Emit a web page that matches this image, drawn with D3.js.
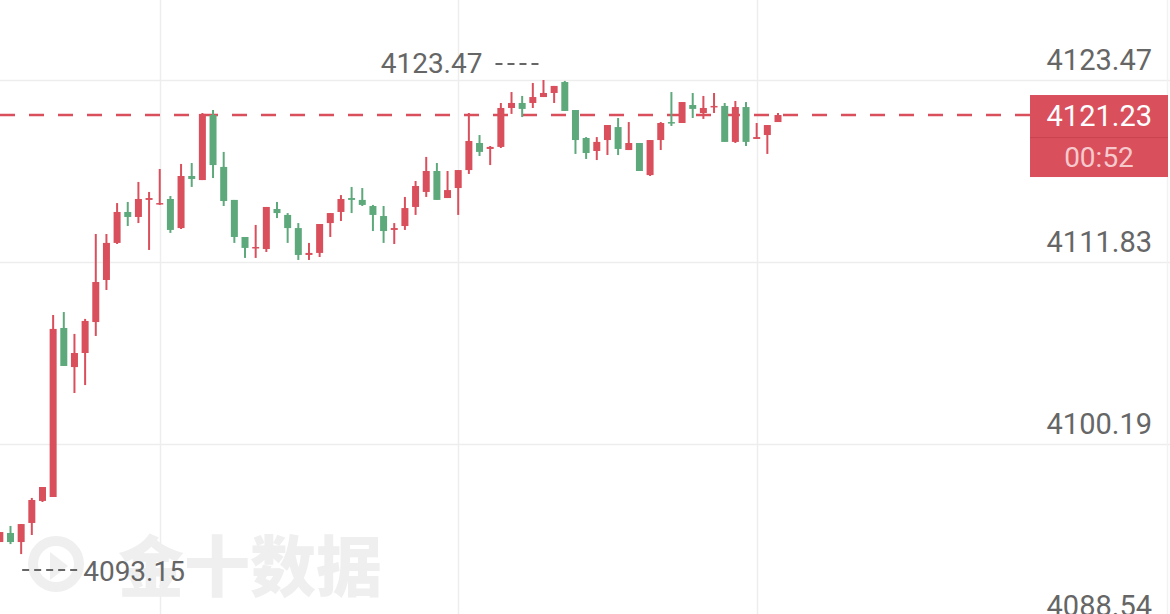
<!DOCTYPE html>
<html>
<head>
<meta charset="utf-8">
<script src="https://cdn.jsdelivr.net/npm/d3@7"></script>
<style>
html, body { margin: 0; padding: 0; background: #fff; overflow: hidden; }
</style>
</head>
<body>
<svg id="chart" width="1170" height="614"></svg>
<script>
"use strict";

// candles, oldest first (index -1 is the half-visible one on the left edge)
const candleIndex = d3.range(-1, 73);
const opens  = [4093.92, 4094.50, 4093.92, 4095.14, 4096.55, 4096.80, 4107.61, 4105.11, 4106.01, 4107.99,
                4110.68, 4113.05, 4115.03, 4114.71, 4115.80, 4115.54, 4115.86, 4114.00, 4117.33, 4117.07,
                4121.23, 4117.91, 4115.80, 4113.43, 4112.73, 4112.66, 4115.22, 4114.84, 4114.00, 4112.28,
                4112.41, 4114.32, 4115.03, 4115.92, 4115.80, 4115.41, 4114.77, 4113.88, 4114.13, 4115.35,
                4116.31, 4117.65, 4115.92, 4116.56, 4117.71, 4119.44, 4119.06, 4119.19, 4121.68, 4122.00,
                4122.00, 4122.38, 4122.64, 4123.34, 4121.55, 4119.76, 4118.93, 4119.63, 4120.46, 4118.99,
                4119.44, 4117.39, 4119.63, 4120.78, 4120.72, 4121.87, 4121.36, 4121.74, 4121.81, 4119.51,
                4121.74, 4119.70, 4119.95, 4120.78];
const highs  = [4094.56, 4094.95, 4095.07, 4096.74, 4097.44, 4108.44, 4108.63, 4107.23, 4108.19, 4113.62,
                4113.62, 4115.60, 4115.67, 4116.95, 4116.31, 4117.78, 4116.05, 4118.10, 4118.16, 4121.36,
                4121.55, 4118.87, 4115.80, 4113.43, 4114.20, 4115.35, 4115.67, 4114.96, 4114.32, 4113.05,
                4114.26, 4114.96, 4116.11, 4116.63, 4116.56, 4115.48, 4115.41, 4114.32, 4115.99, 4117.01,
                4118.55, 4118.16, 4117.65, 4117.71, 4121.36, 4119.95, 4119.25, 4122.00, 4122.70, 4122.45,
                4123.28, 4123.47, 4123.09, 4123.41, 4121.55, 4119.82, 4119.82, 4120.59, 4121.04, 4120.78,
                4119.44, 4119.63, 4120.78, 4122.70, 4122.06, 4122.64, 4122.45, 4122.64, 4122.00, 4122.13,
                4122.06, 4120.72, 4120.59, 4121.36];
const lows   = [4093.92, 4093.79, 4093.15, 4094.37, 4096.48, 4096.80, 4105.18, 4103.45, 4103.96, 4107.10,
                4110.04, 4112.98, 4114.13, 4114.32, 4112.60, 4115.48, 4113.69, 4113.94, 4116.63, 4117.07,
                4117.20, 4115.41, 4113.05, 4112.09, 4112.09, 4112.47, 4114.64, 4113.05, 4111.96, 4111.96,
                4112.15, 4113.43, 4114.45, 4114.96, 4115.41, 4113.81, 4113.05, 4112.98, 4113.88, 4114.84,
                4115.99, 4115.80, 4115.92, 4114.84, 4117.46, 4118.61, 4118.03, 4119.12, 4121.30, 4121.10,
                4121.68, 4122.38, 4122.00, 4121.49, 4118.74, 4118.42, 4118.35, 4118.67, 4118.67, 4118.99,
                4117.65, 4117.33, 4118.99, 4120.53, 4120.72, 4121.04, 4120.98, 4121.36, 4119.51, 4119.44,
                4119.25, 4119.70, 4118.74, 4120.78];
const closes = [4094.56, 4093.92, 4095.07, 4096.61, 4097.44, 4107.55, 4105.18, 4106.01, 4108.06, 4110.55,
                4113.05, 4115.03, 4114.71, 4115.86, 4115.92, 4115.60, 4113.88, 4117.33, 4117.14, 4121.30,
                4118.03, 4115.73, 4113.43, 4112.73, 4112.79, 4115.35, 4114.96, 4114.00, 4112.28, 4112.41,
                4114.26, 4114.96, 4115.86, 4115.80, 4115.48, 4114.84, 4113.81, 4114.00, 4115.28, 4116.69,
                4117.65, 4115.80, 4116.43, 4117.71, 4119.57, 4118.87, 4119.19, 4121.68, 4122.00, 4121.62,
                4122.38, 4122.64, 4123.09, 4121.49, 4119.63, 4118.80, 4119.51, 4120.59, 4119.06, 4119.44,
                4117.65, 4119.63, 4120.72, 4120.72, 4122.06, 4121.62, 4121.68, 4121.81, 4119.51, 4121.74,
                4119.51, 4119.82, 4120.59, 4121.23];

// price axis
const priceTicks = [4088.54, 4100.19, 4111.83, 4123.47];
const gridCandles = [14, 42, 70];
const lastPrice = 4121.23;
const countdown = "00:52";
const highMark = { index: 50, value: 4123.47 };
const lowMark = { index: 1, value: 4093.15 };
const watermark = "金十数据";

const upColor = "#d94f5c",
      downColor = "#5ea97c",
      gridColor = "#ededed",
      labelColor = "#666",
      font = "Roboto, 'Noto Sans', sans-serif";

const width = 1170, height = 614;
const svg = d3.select("#chart");

svg.append("rect").attr("width", width).attr("height", height).attr("fill", "#fff");

// scales
let scaleX = d3.scaleLinear()
.domain([0, 72])
.range([10.5, 778]);

let scaleY = d3.scaleLinear()
.domain([4089.318, 4128.586])
.range([height, 0]);

const candleW = 7;

let data = candleIndex.map((idx, k) => ({
    idx: idx, o: opens[k], h: highs[k], l: lows[k], c: closes[k]
}));



// grid
let grid = svg.append("g").attr("class", "grid");
grid.selectAll("line.h")
.data(priceTicks)
.enter()
.append("line")
.attr("class", "h")
.attr("x1", 0).attr("x2", width)
.attr("y1", d => Math.round(scaleY(d)) + 0.5)
.attr("y2", d => Math.round(scaleY(d)) + 0.5)
.attr("stroke", gridColor)
.attr("stroke-width", 1.5);

grid.selectAll("line.v")
.data(gridCandles)
.enter()
.append("line")
.attr("class", "v")
.attr("x1", d => Math.round(scaleX(d)) + 0.5)
.attr("x2", d => Math.round(scaleX(d)) + 0.5)
.attr("y1", 0).attr("y2", height)
.attr("stroke", gridColor)
.attr("stroke-width", 1.5);

grid.append("line")
.attr("x1", width - 2.5).attr("x2", width - 2.5)
.attr("y1", 0).attr("y2", height)
.attr("stroke", "#f2f2f2")
.attr("stroke-width", 1.5);



// watermark
let wm = svg.append("g").attr("class", "watermark").attr("fill", "#efefef");
wm.append("circle")
.attr("cx", 56).attr("cy", 564).attr("r", 23)
.attr("fill", "none")
.attr("stroke", "#efefef")
.attr("stroke-width", 10);
wm.append("path")
.attr("d", "M50,552 L68,566 L50,580 Z");
wm.append("text")
.attr("x", 118).attr("y", 591)
.attr("font-family", "'Noto Sans CJK SC', sans-serif")
.attr("font-weight", 900)
.attr("font-size", 66)
.text(watermark);



// last price dashed line
svg.append("line")
.attr("x1", 0).attr("x2", 1030)
.attr("y1", scaleY(lastPrice)).attr("y2", scaleY(lastPrice))
.attr("stroke", upColor)
.attr("stroke-width", 2.5)
.attr("stroke-dasharray", "15,14");



// candles
let candles = svg.append("g").attr("class", "candles")
.selectAll("g")
.data(data)
.enter()
.append("g")
.attr("fill", d => d.c >= d.o ? upColor : downColor)
.attr("stroke", d => d.c >= d.o ? upColor : downColor);

candles.append("line")
.attr("x1", d => scaleX(d.idx)).attr("x2", d => scaleX(d.idx))
.attr("y1", d => scaleY(d.h)).attr("y2", d => scaleY(d.l))
.attr("stroke-width", 2);

candles.append("rect")
.attr("x", d => scaleX(d.idx) - candleW / 2)
.attr("width", candleW)
.attr("y", d => scaleY(Math.max(d.o, d.c)))
.attr("height", d => Math.max(1.5, Math.abs(scaleY(d.o) - scaleY(d.c))))
.attr("stroke", "none");



// high / low markers
let hx = scaleX(highMark.index), hy = scaleY(highMark.value);
svg.append("line")
.attr("x1", hx - 48).attr("x2", hx - 5)
.attr("y1", hy - 16).attr("y2", hy - 16)
.attr("stroke", labelColor).attr("stroke-width", 2)
.attr("stroke-dasharray", "7,5");
svg.append("text")
.attr("x", hx - 61).attr("y", hy - 7)
.attr("text-anchor", "end")
.attr("font-family", font).attr("font-size", 28)
.attr("fill", labelColor)
.text(highMark.value.toFixed(2));

let lx = scaleX(lowMark.index), ly = scaleY(lowMark.value);
svg.append("line")
.attr("x1", lx + 1).attr("x2", lx + 56)
.attr("y1", ly + 16).attr("y2", ly + 16)
.attr("stroke", labelColor).attr("stroke-width", 2)
.attr("stroke-dasharray", "7,5");
svg.append("text")
.attr("x", lx + 62).attr("y", ly + 27)
.attr("font-family", font).attr("font-size", 28)
.attr("fill", labelColor)
.text(lowMark.value.toFixed(2));



// right price labels
svg.append("g")
.attr("class", "y_axis")
.selectAll("text")
.data(priceTicks)
.enter()
.append("text")
.attr("x", 1152)
.attr("y", d => scaleY(d) - 10)
.attr("text-anchor", "end")
.attr("font-family", font).attr("font-size", 29)
.attr("fill", labelColor)
.text(d => d.toFixed(2));



// last price box
let box = svg.append("g").attr("class", "price_box");
box.append("rect")
.attr("x", 1030).attr("y", scaleY(lastPrice) - 20)
.attr("width", 138).attr("height", 82)
.attr("fill", upColor);
box.append("line")
.attr("x1", 1030).attr("x2", 1168)
.attr("y1", scaleY(lastPrice) + 22.5).attr("y2", scaleY(lastPrice) + 22.5)
.attr("stroke", "#c94452").attr("stroke-width", 1);
box.append("text")
.attr("x", 1152).attr("y", scaleY(lastPrice) + 11)
.attr("text-anchor", "end")
.attr("font-family", font).attr("font-size", 29)
.attr("fill", "#fff")
.text(lastPrice.toFixed(2));
box.append("text")
.attr("x", 1099).attr("y", scaleY(lastPrice) + 52)
.attr("text-anchor", "middle")
.attr("font-family", font).attr("font-size", 28)
.attr("fill", "#f6c9cd")
.text(countdown);
</script>
</body>
</html>
